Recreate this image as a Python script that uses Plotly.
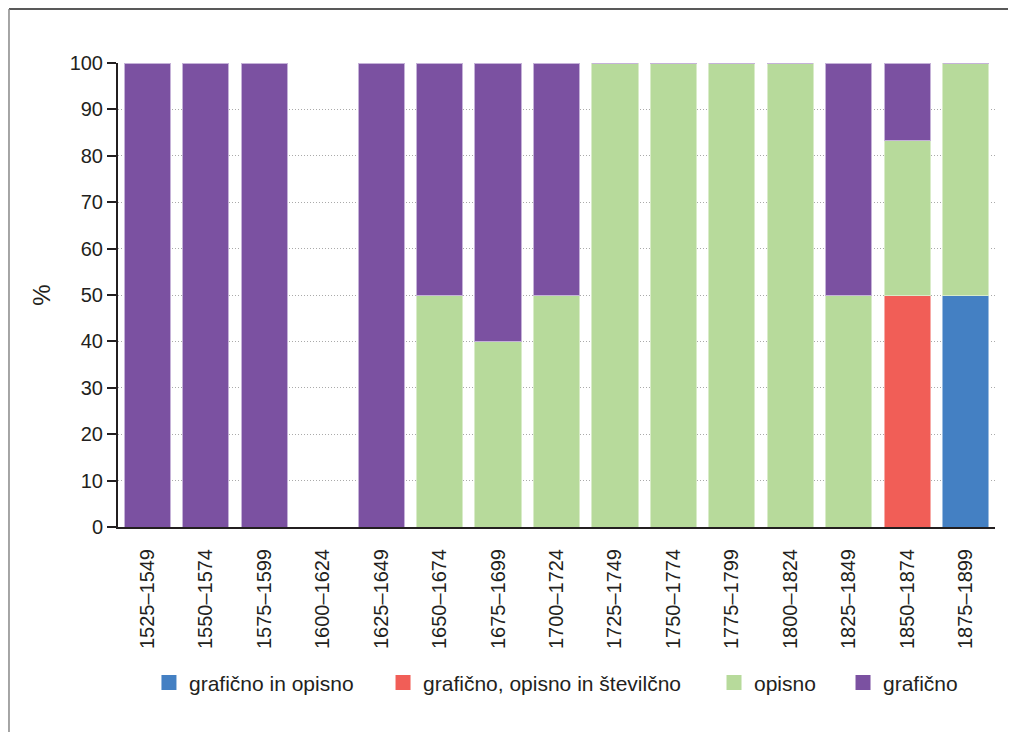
import plotly.graph_objects as go

obdobja = ['1525–1549', '1550–1574', '1575–1599', '1600–1624', '1625–1649',
           '1650–1674', '1675–1699', '1700–1724', '1725–1749', '1750–1774',
           '1775–1799', '1800–1824', '1825–1849', '1850–1874', '1875–1899']

graficno_in_opisno = [0, 0, 0, 0, 0, 0, 0, 0, 0, 0, 0, 0, 0, 0, 50]
graficno_opisno_stevilcno = [0, 0, 0, 0, 0, 0, 0, 0, 0, 0, 0, 0, 0, 50, 0]
opisno = [0, 0, 0, 0, 0, 50, 40, 50, 100, 100, 100, 100, 50, 33.3, 50]
graficno = [100, 100, 100, 0, 100, 50, 60, 50, 0, 0, 0, 0, 50, 16.7, 0]

serije = [
    ('grafično in opisno', graficno_in_opisno, '#4480C3', '#9dbde0'),
    ('grafično, opisno in številčno', graficno_opisno_stevilcno, '#F15E57', '#f7aaa6'),
    ('opisno', opisno, '#B7DA9B', '#d9ecc9'),
    ('grafično', graficno, '#7B51A1', '#c5b2d8'),
]

# x position (paper) of each legend entry
legenda_x = [0.0353, 0.3022, 0.6796, 0.8267]
legende = ['legend', 'legend2', 'legend3', 'legend4']

fig = go.Figure()
for ime, vrednosti, barva, rob in serije:
    fig.add_trace(go.Bar(
        x=obdobja, y=vrednosti, name=ime, showlegend=False,
        marker=dict(color=barva, line=dict(color=rob, width=1)),
    ))

# legend entries with bigger square symbols
for (ime, vrednosti, barva, rob), leg in zip(serije, legende):
    fig.add_trace(go.Scatter(
        x=[None], y=[None], name=ime, mode='markers', legend=leg,
        marker=dict(symbol='square', size=15, color=barva),
    ))

txt = '#231F20'
leg_style = dict(orientation='h', y=-0.336, yanchor='middle', xanchor='left',
                 font=dict(size=21), bgcolor='rgba(0,0,0,0)')

fig.update_layout(
    barmode='stack',
    bargap=0.21,
    width=1008, height=724,
    margin=dict(l=110, r=21, t=55, b=205),
    plot_bgcolor='white',
    paper_bgcolor='white',
    font=dict(family='Liberation Sans, Arial, sans-serif', size=20, color=txt),
    legend=dict(leg_style, x=legenda_x[0]),
    legend2=dict(leg_style, x=legenda_x[1]),
    legend3=dict(leg_style, x=legenda_x[2]),
    legend4=dict(leg_style, x=legenda_x[3]),
    xaxis=dict(
        range=[-0.5, 14.5],
        tickangle=-90,
        showline=True, linecolor=txt, linewidth=2,
        ticks='', ticklabelstandoff=12,
        showgrid=False,
    ),
    yaxis=dict(
        title=dict(text='%', standoff=12),
        range=[0, 100],
        dtick=10,
        showline=True, linecolor=txt, linewidth=2,
        ticks='outside', ticklen=9, tickwidth=1.5, tickcolor=txt,
        showgrid=True, gridcolor='#aaaaaa', griddash='1px,2px', gridwidth=1,
        zeroline=False,
    ),
    shapes=[
        dict(type='line', xref='paper', yref='paper',
             x0=-0.1243, x1=1.03, y0=1.1164, y1=1.1164,
             line=dict(color='#222222', width=1.5)),
        dict(type='line', xref='paper', yref='paper',
             x0=-0.1243, x1=-0.1243, y0=1.1164, y1=-0.46,
             line=dict(color='#888888', width=1.5)),
    ],
)

fig.write_html('out.html')
